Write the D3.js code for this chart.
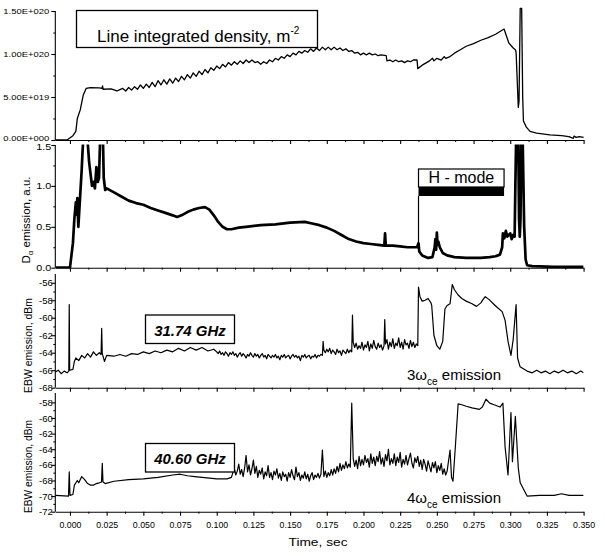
<!DOCTYPE html>
<html><head><meta charset="utf-8">
<script src="https://cdn.jsdelivr.net/npm/d3@7/dist/d3.min.js"></script>
<style>
body{margin:0;background:#fff;}
svg{display:block;font-family:"Liberation Sans",Arial,Helvetica,sans-serif;}
</style></head><body>
<svg id="chart" width="605" height="556"></svg>
<script>
// ---------------- DATA ----------------
const timeTicks = [0,0.025,0.05,0.075,0.1,0.125,0.15,0.175,0.2,0.225,0.25,0.275,0.3,0.325,0.35];
const timeTickLabels = ["0.000","0.025","0.050","0.075","0.100","0.125","0.150","0.175","0.200","0.225","0.250","0.275","0.300","0.325","0.350"];

const densityTicks = [0,5,10,15];           // units of 1e19 m^-2
const densityTickLabels = ["0.00E+000","5.00E+019","1.00E+020","1.50E+020"];
const dalphaTicks = [0,0.5,1.0,1.5];
const dalphaTickLabels = ["0.0","0.5","1.0","1.5"];
const ebw31Ticks = [-68,-66,-64,-62,-60,-58,-56];
const ebw31TickLabels = ["-68","-66","-64","-62","-60","-58","-56"];
const ebw40Ticks = [-72,-70,-68,-66,-64,-62,-60,-58];
const ebw40TickLabels = ["-72","-70","-68","-66","-64","-62","-60","-58"];

// Line integrated density [t (s), value (1e19 m^-2)]
const densityE19 = [
[-0.01,0],[-0.002,0],[0.002,0.5],[0.004,1.0],[0.005,2.5],[0.007,3.5],[0.009,5.2],[0.011,6.0],[0.014,6.1],
[0.02,6.05],[0.0218,6.0],[0.0222,6.3],[0.0226,5.9],[0.028,5.95],[0.032,5.7],[0.034,5.85],
[0.036,6.0],[0.038,5.7],[0.040,6.1],[0.042,5.8],[0.044,6.2],[0.046,5.9],[0.048,6.4],[0.050,6.0],
[0.052,6.5],[0.054,6.1],[0.056,6.7],[0.058,6.2],[0.060,6.9],[0.062,6.4],[0.064,7.0],[0.066,6.5],
[0.068,7.1],[0.070,6.6],[0.072,7.2],[0.074,6.8],[0.076,7.4],[0.078,7.0],[0.080,7.6],[0.082,7.2],
[0.084,7.8],[0.086,7.4],[0.088,8.0],[0.090,7.6],[0.092,8.2],[0.094,7.8],[0.096,8.4],[0.098,8.1],
[0.100,8.6],[0.102,8.3],[0.104,8.8],[0.106,8.5],[0.108,9.0],[0.110,8.7],[0.112,9.1],[0.114,8.8],
[0.116,9.2],[0.118,8.9],[0.120,9.3],[0.122,9.0],[0.124,9.3],[0.126,9.0],[0.128,9.1],[0.130,8.8],
[0.132,9.1],[0.134,8.9],[0.136,9.3],[0.138,9.1],[0.140,9.5],[0.142,9.3],[0.144,9.7],[0.146,9.5],
[0.148,9.9],[0.150,9.7],[0.152,10.1],[0.154,9.9],[0.156,10.3],[0.158,10.1],[0.160,10.4],[0.162,10.2],
[0.164,10.6],[0.166,10.3],[0.168,10.7],[0.170,10.4],[0.172,10.8],[0.174,10.5],[0.176,10.8],[0.178,10.5],
[0.180,10.8],[0.182,10.5],[0.184,10.7],[0.186,10.4],[0.188,10.6],[0.190,10.3],[0.192,10.4],[0.194,10.1],
[0.196,10.2],[0.198,9.9],[0.200,10.1],[0.202,9.9],[0.204,10.1],[0.206,9.9],[0.208,10.0],[0.210,9.8],
[0.212,9.9],[0.2155,9.8],[0.216,9.2],[0.218,9.3],[0.220,9.1],[0.222,9.3],[0.224,9.1],[0.226,9.2],
[0.228,9.0],[0.230,9.2],[0.232,9.1],[0.234,9.3],[0.2365,9.3],[0.237,8.3],[0.240,8.7],[0.243,9.0],
[0.245,9.2],[0.247,9.5],[0.248,9.2],[0.250,9.5],[0.253,9.3],[0.255,9.7],[0.256,9.5],[0.259,9.7],
[0.262,10.1],[0.266,10.5],[0.270,10.9],[0.275,11.2],[0.280,11.6],[0.285,11.9],[0.290,12.3],[0.2958,12.9],
[0.299,11.3],[0.302,10.7],[0.3035,10.5],[0.304,10.2],[0.3055,3.8],[0.306,4.5],[0.3068,15.3],[0.3078,15.3],
[0.3085,5.0],[0.309,2.2],[0.311,1.5],[0.3135,1.0],[0.318,0.8],[0.327,0.6],[0.335,0.5],[0.340,0.4],
[0.343,0.2],[0.3435,0.45],[0.345,0.3],[0.347,0.4],[0.350,0.3]
];

// D-alpha emission [t, a.u.]
const dalpha = [
[-0.01,0],[0.0,0],[0.002,0.3],[0.003,0.6],[0.004,0.8],[0.0045,0.65],[0.005,0.85],[0.0057,0.5],[0.007,0.9],
[0.008,1.2],[0.0085,1.4],[0.009,1.55],[0.012,1.55],[0.013,1.3],[0.014,1.15],[0.015,1.0],[0.016,1.05],
[0.017,0.97],[0.018,1.23],[0.019,1.05],[0.0198,1.1],[0.0205,1.55],[0.0225,1.55],[0.023,1.1],[0.024,0.95],
[0.025,0.97],[0.03,0.92],[0.035,0.87],[0.04,0.82],[0.045,0.79],[0.05,0.77],[0.055,0.73],[0.06,0.70],
[0.065,0.67],[0.07,0.64],[0.073,0.62],[0.076,0.64],[0.08,0.68],[0.084,0.71],[0.088,0.73],[0.092,0.74],
[0.095,0.71],[0.098,0.64],[0.101,0.56],[0.104,0.50],[0.107,0.47],[0.11,0.47],[0.115,0.49],[0.12,0.50],
[0.13,0.52],[0.14,0.53],[0.15,0.55],[0.16,0.56],[0.165,0.54],[0.17,0.52],[0.175,0.49],[0.18,0.45],
[0.185,0.40],[0.19,0.35],[0.195,0.32],[0.2,0.30],[0.205,0.29],[0.21,0.28],[0.2142,0.27],[0.2147,0.42],
[0.2152,0.27],[0.22,0.27],[0.225,0.26],[0.23,0.25],[0.2365,0.25],[0.2375,0.3],[0.238,0.2],[0.24,0.15],
[0.244,0.12],[0.247,0.13],[0.2485,0.25],[0.249,0.35],[0.2495,0.22],[0.25,0.43],[0.2505,0.28],[0.251,0.32],
[0.252,0.25],[0.254,0.18],[0.257,0.15],[0.262,0.13],[0.27,0.12],[0.28,0.12],[0.286,0.13],[0.29,0.14],
[0.293,0.16],[0.2945,0.25],[0.295,0.42],[0.296,0.36],[0.297,0.45],[0.298,0.38],[0.3,0.42],[0.301,0.35],
[0.302,0.40],[0.303,0.38],[0.3035,1.0],[0.304,1.55],[0.3055,1.55],[0.306,0.6],[0.3065,0.38],[0.307,0.6],
[0.3075,1.55],[0.3085,1.55],[0.3095,0.5],[0.3105,0.1],[0.3115,0.03],[0.315,0.02],[0.33,0.01],[0.35,0.01]
];

// EBW emission 31.74 GHz [t, dBm] (smooth/transient parts)
const ebw31 = [
[-0.01,-66.2],[-0.008,-66.0],[-0.006,-66.4],[-0.004,-66.1],[-0.002,-66.3],[-0.0008,-66.1],[-0.0005,-58.5],
[-0.0002,-66.0],[0.002,-65.9],[0.003,-65.0],[0.004,-64.6],[0.006,-64.9],[0.008,-64.3],[0.010,-64.6],
[0.012,-64.1],[0.014,-64.5],[0.016,-63.9],[0.018,-64.3],[0.020,-64.0],[0.0212,-64.2],[0.0216,-61.2],
[0.022,-64.1],[0.0235,-65.0],[0.025,-64.3],[0.03,-64.4],[0.034,-64.2],[0.038,-64.4],[0.042,-64.1],
[0.046,-64.2],[0.05,-63.9],[0.054,-64.1],[0.058,-63.8],[0.062,-64.0],[0.066,-63.7],[0.07,-63.9],
[0.074,-63.5],[0.078,-63.8],[0.082,-63.4],[0.086,-63.7],[0.09,-63.4],[0.094,-63.8],[0.098,-63.6],
[0.171,-64.2],[0.172,-64.3],[0.1725,-62.7],[0.173,-63.7],[0.1925,-59.7],[0.193,-62.8],[0.2145,-60.2],
[0.2375,-56.5],[0.2385,-57.6],[0.24,-58.1],
[0.242,-58.0],[0.244,-57.8],[0.246,-58.3],[0.2465,-58.6],[0.248,-62.0],[0.25,-63.2],[0.252,-63.6],
[0.254,-62.7],[0.2555,-59.0],[0.257,-58.6],[0.259,-58.4],[0.2605,-56.2],[0.262,-56.8],[0.2645,-57.4],
[0.267,-57.8],[0.27,-58.1],[0.274,-58.4],[0.277,-58.7],[0.28,-58.3],[0.2815,-57.9],[0.283,-57.6],
[0.2855,-57.9],[0.2885,-58.4],[0.291,-58.8],[0.2945,-59.3],[0.2965,-60.3],[0.2985,-62.7],[0.3005,-64.3],
[0.302,-62.5],[0.304,-58.5],[0.305,-64.6],[0.3067,-65.6],[0.3115,-66.1],[0.315,-66.3],[0.318,-66.0],
[0.321,-66.3],[0.324,-66.1],[0.327,-66.4],[0.33,-66.1],[0.333,-66.3],[0.336,-66.0],[0.339,-66.3],
[0.342,-66.1],[0.345,-66.4],[0.348,-66.1],[0.35,-66.3]
];
// noisy stretches sampled every 1 ms: [start time, values...]
const ebw31NoiseA = [0.100, [
-63.9,-64.1,-63.8,-64.2,-64.0,-64.3,-63.9,-64.1,-64.4,-64.0,
-64.2,-63.9,-64.3,-64.1,-64.5,-64.2,-64.0,-64.4,-64.1,-64.3,
-64.6,-64.2,-64.4,-64.0,-64.3,-64.5,-64.1,-64.4,-64.2,-64.6,
-64.3,-64.1,-64.5,-64.3,-64.7,-64.2,-64.4,-64.6,-64.3,-64.5,
-64.2,-64.6,-64.4,-64.8,-64.3,-64.5,-64.2,-64.6,-64.4,-64.3,
-64.7,-64.4,-64.2,-64.5,-64.3,-64.6,-64.4,-64.9,-64.3,-64.5,
-64.2,-64.6,-64.4,-64.3,-64.7,-64.4,-64.5,-64.2,-64.6,-64.3,-64.4]];
const ebw31NoiseB = [0.174, [
-64.0,-63.6,-63.9,-63.5,-64.1,-63.7,-63.9,-64.2,-63.6,-64.0,
-63.8,-64.3,-63.7,-63.9,-64.1,-63.6,-64.0,-63.7,-63.9]];
const ebw31NoiseC = [0.194, [
-63.4,-62.9,-63.6,-63.2,-63.5,-62.8,-63.7,-63.1,-63.4,-62.7,
-63.8,-63.0,-63.5,-62.6,-63.3,-63.6,-62.9,-63.4,-63.1,-63.7,-63.2,
-63.0,-62.5,-63.6,-62.8,-63.3,-62.4,-63.5,-62.9,-63.2,-62.3,
-63.4,-62.8,-63.6,-62.5,-63.1,-62.9,-63.5,-62.6,-63.3,-62.8,-63.4,-63.0,-63.2]];

// EBW emission 40.60 GHz [t, dBm] (smooth/transient parts)
const ebw40 = [
[-0.01,-69.9],[-0.001,-70.0],[-0.0005,-66.9],[0.0,-69.9],[0.002,-69.8],[0.003,-68.6],[0.005,-68.0],
[0.006,-68.3],[0.008,-67.5],[0.01,-67.9],[0.012,-68.4],[0.014,-68.6],[0.016,-68.6],[0.018,-68.4],
[0.02,-68.3],[0.0215,-68.2],[0.022,-65.8],[0.0225,-68.2],[0.024,-68.4],[0.03,-68.1],[0.04,-67.9],
[0.05,-67.8],[0.06,-67.6],[0.07,-67.3],[0.075,-67.2],[0.08,-67.4],[0.085,-67.5],[0.09,-67.6],
[0.095,-67.7],[0.1,-67.8],[0.107,-67.8],
[0.259,-64.1],[0.26,-67.6],[0.261,-68.1],[0.2625,-64.0],[0.2645,-58.2],[0.267,-58.3],
[0.27,-58.5],[0.274,-58.7],[0.279,-58.9],[0.281,-58.6],[0.2835,-57.6],[0.286,-58.1],[0.289,-58.3],
[0.293,-58.6],[0.295,-58.1],[0.2965,-63.7],[0.2985,-67.3],[0.3005,-59.3],[0.3015,-65.6],[0.3035,-59.8],
[0.3055,-66.4],[0.3068,-68.3],[0.3115,-70.0],[0.32,-69.9],[0.33,-69.9],[0.335,-69.7],[0.34,-69.9],[0.35,-69.9]
];
const ebw40Noise = [0.110, [
-67.6,-67.0,-66.5,-67.3,-66.8,-65.9,-67.2,-66.6,-67.5,-66.4,
-64.8,-66.9,-66.0,-67.3,-66.5,-65.4,-67.1,-66.2,-67.6,-66.7,
-67.2,-66.4,-67.8,-66.9,-67.4,-66.1,-67.6,-67.0,-67.9,-66.8,
-67.3,-66.5,-67.7,-67.1,-68.0,-66.9,-67.5,-67.2,-68.1,-67.0,
-67.6,-66.6,-67.4,-67.9,-66.3,-67.5,-67.0,-68.0,-67.3,-67.7,
-66.9,-67.8,-67.2,-68.1,-67.4,-67.0,-67.9,-67.3,-67.6,-67.1,
-67.7,-67.2,-64.1,-67.5,-66.8,-67.6,-67.0,-67.4,-66.6,-67.3,
-66.5,-67.1,-66.2,-66.9,-65.8,-66.7,-66.0,-66.5,-65.6,-66.4,
-65.9,-66.3,-58.1,-65.2,-66.2,-65.4,-66.5,-64.9,-66.1,-65.3,
-66.0,-64.8,-65.7,-65.2,-66.3,-64.6,-65.8,-65.0,-66.1,-64.9,
-65.6,-64.3,-65.9,-65.1,-66.2,-64.7,-65.5,-64.0,-66.0,-65.2,
-65.8,-64.6,-66.1,-65.0,-65.7,-64.4,-66.3,-65.3,-65.9,-64.8,
-66.0,-65.2,-64.5,-65.8,-66.4,-65.1,-65.7,-64.9,-66.2,-65.4,
-66.6,-65.3,-65.9,-66.8,-65.5,-66.2,-66.9,-65.7,-66.4,-65.6,
-67.0,-66.1,-66.7,-65.8,-67.2,-66.5,-67.3,-66.8]];

// ---------------- DRAWING ----------------
const SAMPLE = 0.001;
function merge(pairs, ...segs) {
  const out = pairs.slice();
  segs.forEach(([t0, vals]) => vals.forEach((v, k) => out.push([+(t0 + k * SAMPLE).toFixed(4), v])));
  return out.sort((a, b) => a[0] - b[0]);
}

const svg = d3.select("#chart");
const x = d3.scaleLinear().domain([-0.01, 0.35]).range([55.3, 583.6]);

const panels = [
  {data: densityE19, domain:[0,15], top:11, bottom:140, ticks:densityTicks, labels:densityTickLabels, width:1.3, clip:false},
  {data: dalpha, domain:[0,1.5], top:145, bottom:267.7, ticks:dalphaTicks, labels:dalphaTickLabels, width:2.7, clip:true},
  {data: merge(ebw31, ebw31NoiseA, ebw31NoiseB, ebw31NoiseC), domain:[-68,-55], top:274, bottom:387.7, ticks:ebw31Ticks, labels:ebw31TickLabels, width:1.2, clip:true},
  {data: merge(ebw40, ebw40Noise), domain:[-72,-56.8], top:393, bottom:511.7, ticks:ebw40Ticks, labels:ebw40TickLabels, width:1.2, clip:true}
];

const defs = svg.append("defs");
const minorT = [];
for (let i = 0; i < timeTicks.length - 1; i++) minorT.push((timeTicks[i] + timeTicks[i+1]) / 2);

panels.forEach((p, i) => {
  p.y = d3.scaleLinear().domain(p.domain).range([p.bottom, p.top]);
  const g = svg.append("g");
  defs.append("clipPath").attr("id", "clip" + i).append("rect")
    .attr("x", x.range()[0]).attr("y", p.top - 0.5)
    .attr("width", x.range()[1] - x.range()[0]).attr("height", p.bottom - p.top + 1);

  const line = d3.line().x(d => x(d[0])).y(d => p.y(d[1]));
  const path = g.append("path").datum(p.data).attr("d", line)
    .attr("fill", "none").attr("stroke", "#000").attr("stroke-width", p.width)
    .attr("stroke-linejoin", "round");
  if (p.clip) path.attr("clip-path", "url(#clip" + i + ")");

  // left axis
  const yAx = d3.axisLeft(p.y).tickValues(p.ticks).tickSize(4).tickSizeOuter(0)
    .tickFormat((d, k) => p.labels[k]);
  const ya = g.append("g").attr("transform", `translate(${x.range()[0]},0)`).call(yAx);
  const minorY = [];
  for (let k = 0; k < p.ticks.length - 1; k++) minorY.push((p.ticks[k] + p.ticks[k+1]) / 2);
  g.append("g").attr("transform", `translate(${x.range()[0]},0)`)
    .call(d3.axisLeft(p.y).tickValues(minorY).tickSize(2).tickFormat(""))
    .select(".domain").remove();
  ya.select(".domain").attr("d", `M0,${p.top}V${p.bottom}`);

  // bottom axis
  const xa = g.append("g").attr("transform", `translate(0,${p.bottom})`)
    .call(d3.axisBottom(x).tickValues(timeTicks).tickSize(4).tickSizeOuter(0)
      .tickFormat((d, k) => i === 3 ? timeTickLabels[k] : ""));
  g.append("g").attr("transform", `translate(0,${p.bottom})`)
    .call(d3.axisBottom(x).tickValues(minorT).tickSize(2).tickFormat(""))
    .select(".domain").remove();

  [ya, xa].forEach(a => {
    a.selectAll("path,line").attr("stroke", "#000").attr("stroke-width", 1.1);
    a.selectAll("text").attr("fill", "#000").attr("font-family", null);
  });

  if (i === 0) {
    ya.selectAll("text").attr("font-size", 7.5).attr("x", -6)
      .attr("textLength", 46).attr("lengthAdjust", "spacingAndGlyphs")
      .attr("dy", (d) => d === 0 ? "0.05em" : "0.32em");
  } else if (i === 1) {
    ya.selectAll("text").attr("font-size", 9.5).attr("x", -4)
      .attr("textLength", 15).attr("lengthAdjust", "spacingAndGlyphs")
      .attr("dy", (d) => d === 1.5 ? "0.5em" : "0.32em");
  } else {
    ya.selectAll("text").attr("font-size", 9.5).attr("x", -2.5);
  }
  if (i === 3) {
    xa.selectAll("text").attr("font-size", 9.5).attr("y", 16).attr("dy", 0)
      .attr("textLength", 22).attr("lengthAdjust", "spacingAndGlyphs");
  }
});

svg.selectAll(".tick line").attr("stroke", "#000");

// ---- annotations ----
const p2 = panels[1];
svg.append("rect").attr("x", 76.5).attr("y", 10.5).attr("width", 241).attr("height", 37)
  .attr("fill", "#fff").attr("stroke", "#000").attr("stroke-width", 1.3);
const dt = svg.append("text").attr("x", 97).attr("y", 41.5).attr("font-size", 17).attr("fill", "#000");
dt.append("tspan").text("Line integrated density, m");
dt.append("tspan").attr("font-size", 10).attr("dy", -8).text("-2");

// H-mode box
const hx0 = x(0.2375), hx1 = x(0.2958);
svg.append("rect").attr("x", hx0).attr("y", 169).attr("width", hx1 - hx0).attr("height", 18)
  .attr("fill", "#fff").attr("stroke", "#000").attr("stroke-width", 1.2);
svg.append("rect").attr("x", hx0).attr("y", 187).attr("width", hx1 - hx0).attr("height", 9).attr("fill", "#000");
svg.append("line").attr("x1", hx0).attr("x2", hx0).attr("y1", 196).attr("y2", p2.y(0.26))
  .attr("stroke", "#000").attr("stroke-width", 1.2);
svg.append("text").attr("x", (hx0 + hx1) / 2).attr("y", 183).attr("text-anchor", "middle")
  .attr("font-size", 16).attr("fill", "#000").text("H - mode");

// frequency boxes
[[315, "31.74 GHz", 335.5], [443.5, "40.60 GHz", 464]].forEach(([top, label, base]) => {
  svg.append("rect").attr("x", 145.5).attr("y", top).attr("width", 89).attr("height", 28.5)
    .attr("fill", "#fff").attr("stroke", "#000").attr("stroke-width", 1.3);
  svg.append("text").attr("x", 190).attr("y", base).attr("text-anchor", "middle")
    .attr("font-size", 15).attr("font-weight", "bold").attr("font-style", "italic")
    .attr("fill", "#000").text(label);
});

// harmonic labels
[["3", 380], ["4", 503]].forEach(([n, base]) => {
  const t = svg.append("text").attr("x", 407).attr("y", base).attr("font-size", 15).attr("fill", "#000");
  t.append("tspan").text(n + "\u03C9");
  t.append("tspan").attr("font-size", 10).attr("dy", 5).text("ce");
  t.append("tspan").attr("dy", -5).text(" emission");
});

// axis titles
const ya1 = svg.append("text").attr("transform", "translate(29.5,220) rotate(-90)")
  .attr("text-anchor", "middle").attr("font-size", 11.5).attr("fill", "#000");
ya1.append("tspan").text("D");
ya1.append("tspan").attr("font-size", 8).attr("dy", 3).text("\u03B1");
ya1.append("tspan").attr("dy", -3).text(" emission, a.u.");

svg.append("text").attr("transform", "translate(31.5,345.5) rotate(-90)")
  .attr("text-anchor", "middle").attr("font-size", 10.5).attr("fill", "#000")
  .attr("textLength", 95).attr("lengthAdjust", "spacingAndGlyphs").text("EBW emission, dBm");
svg.append("text").attr("transform", "translate(31.5,466.5) rotate(-90)")
  .attr("text-anchor", "middle").attr("font-size", 10.5).attr("fill", "#000")
  .attr("textLength", 93).attr("lengthAdjust", "spacingAndGlyphs").text("EBW emission, dBm");

svg.append("text").attr("x", 318).attr("y", 546).attr("text-anchor", "middle")
  .attr("font-size", 11.5).attr("fill", "#000")
  .attr("textLength", 59).attr("lengthAdjust", "spacingAndGlyphs").text("Time, sec");
</script>
</body></html>
